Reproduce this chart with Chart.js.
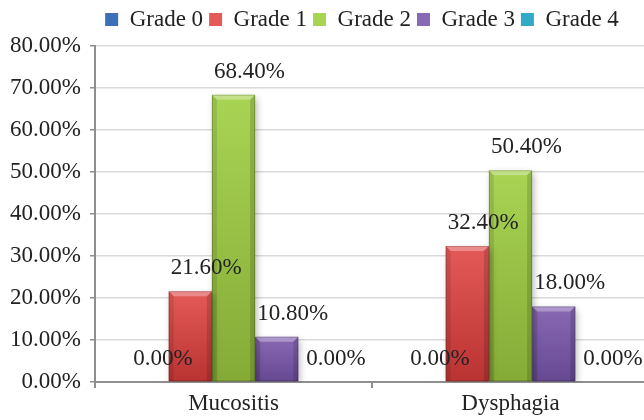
<!DOCTYPE html>
<html>
<head>
<meta charset="utf-8">
<script src="https://cdn.jsdelivr.net/npm/chart.js@4"></script>
<style>
  html, body { margin: 0; padding: 0; background: #fff; overflow: hidden; }
  #wrap { width: 649px; height: 420px; position: relative; }
</style>
</head>
<body>
<div id="wrap"><canvas id="c"></canvas></div>
<script>
// Toxicity grade distribution (%) per symptom
const categories = ['Mucositis', 'Dysphagia'];
const gradeNames = ['Grade 0', 'Grade 1', 'Grade 2', 'Grade 3', 'Grade 4'];
const grade0 = [0.00, 0.00];
const grade1 = [21.60, 32.40];
const grade2 = [68.40, 50.40];
const grade3 = [10.80, 18.00];
const grade4 = [0.00, 0.00];
const yTickValues = [0, 10, 20, 30, 40, 50, 60, 70, 80];

const FONT = '"Liberation Serif", "Times New Roman", serif';
const FONT_SIZE = 23;

// light / base / dark shades for each grade
const palette = [
  { light: '#5b8fd0', base: '#3c70b8', dark: '#2f5a96' },
  { light: '#e45a58', base: '#d84140', dark: '#b93332' },
  { light: '#a8d454', base: '#9bc444', dark: '#85ab36' },
  { light: '#8a69b4', base: '#7d5ba8', dark: '#664892' },
  { light: '#5cc3dc', base: '#33a9c8', dark: '#2689a6' }
];

function barFill(c) {
  return (ctx) => {
    if (ctx.type !== 'data') return c.base;
    const chart = ctx.chart;
    const ys = chart.scales && chart.scales.y;
    if (!ys || ys.top === undefined) return c.base;
    const yTop = ys.getPixelForValue(ctx.parsed.y);
    const yBase = ys.getPixelForValue(0);
    if (!isFinite(yTop) || yBase - yTop < 2) return c.base;
    const g = chart.ctx.createLinearGradient(0, yTop, 0, yBase);
    g.addColorStop(0, c.light);
    g.addColorStop(1, c.dark);
    return g;
  };
}

const series = [grade0, grade1, grade2, grade3, grade4];
const datasets = series.map((data, i) => ({
  label: gradeNames[i],
  data: data,
  backgroundColor: barFill(palette[i]),
  borderColor: palette[i].dark,
  borderWidth: 0,
  categoryPercentage: 0.78,
  barPercentage: 1.0
}));

// soft floor shadow beneath the bars
const barShadow = {
  id: 'barShadow',
  beforeDatasetsDraw(chart) {
    const ctx = chart.ctx;
    ctx.save();
    ctx.shadowColor = 'rgba(0,0,0,0.3)';
    ctx.shadowBlur = 7;
    ctx.shadowOffsetX = 2;
    ctx.shadowOffsetY = 3;
  },
  afterDatasetsDraw(chart) {
    chart.ctx.restore();
  }
};

// bevelled edges on each bar
const barBevel = {
  id: 'barBevel',
  afterDatasetsDraw(chart) {
    const ctx = chart.ctx;
    ctx.save();
    chart.data.datasets.forEach((ds, i) => {
      chart.getDatasetMeta(i).data.forEach((bar) => {
        const h = bar.base - bar.y;
        if (h < 3) return;
        const x0 = bar.x - bar.width / 2, x1 = bar.x + bar.width / 2;
        const y0 = bar.y, y1 = bar.base;
        const b = Math.min(5, h / 2);
        // top highlight
        ctx.fillStyle = 'rgba(255,255,255,0.30)';
        ctx.beginPath();
        ctx.moveTo(x0, y0); ctx.lineTo(x1, y0);
        ctx.lineTo(x1 - b, y0 + b); ctx.lineTo(x0 + b, y0 + b);
        ctx.closePath(); ctx.fill();
        // side shading
        ctx.fillStyle = 'rgba(0,0,0,0.10)';
        ctx.beginPath();
        ctx.moveTo(x0, y0); ctx.lineTo(x0 + b, y0 + b);
        ctx.lineTo(x0 + b, y1); ctx.lineTo(x0, y1);
        ctx.closePath(); ctx.fill();
        ctx.fillStyle = 'rgba(0,0,0,0.14)';
        ctx.beginPath();
        ctx.moveTo(x1, y0); ctx.lineTo(x1 - b, y0 + b);
        ctx.lineTo(x1 - b, y1); ctx.lineTo(x1, y1);
        ctx.closePath(); ctx.fill();
        // thin outline
        ctx.strokeStyle = 'rgba(0,0,0,0.18)';
        ctx.lineWidth = 1;
        ctx.strokeRect(x0 + 0.5, y0 + 0.5, bar.width - 1, h - 1);
      });
    });
    ctx.restore();
  }
};

// percentage labels over each bar
const valueLabels = {
  id: 'valueLabels',
  afterDatasetsDraw(chart) {
    const ctx = chart.ctx;
    ctx.save();
    ctx.font = FONT_SIZE + 'px ' + FONT;
    ctx.fillStyle = '#222';
    ctx.textAlign = 'center';
    ctx.textBaseline = 'middle';
    chart.data.datasets.forEach((ds, i) => {
      const meta = chart.getDatasetMeta(i);
      meta.data.forEach((bar, j) => {
        ctx.fillText(ds.data[j].toFixed(2) + '%', bar.x + 16, bar.y - 23);
      });
    });
    ctx.restore();
  }
};

// centre the legend row over the plot area and lift it a little
const legendShift = {
  id: 'legendShift',
  afterLayout(chart) {
    const lg = chart.legend;
    if (!lg) return;
    const dx = (chart.chartArea.left + chart.chartArea.right) / 2 - (lg.left + lg.right) / 2 - 10;
    lg.left += dx;
    lg.right += dx;
    lg.top -= 5;
    lg.bottom -= 5;
  }
};

new Chart(document.getElementById('c'), {
  type: 'bar',
  data: { labels: categories, datasets: datasets },
  plugins: [barShadow, barBevel, valueLabels, legendShift],
  options: {
    responsive: true,
    maintainAspectRatio: false,
    animation: false,
    layout: { padding: { left: 0, right: 0, top: 7, bottom: 0 } },
    plugins: {
      legend: {
        position: 'top',
        labels: {
          font: { family: FONT, size: FONT_SIZE },
          color: '#222',
          boxWidth: 13,
          boxHeight: 13,
          padding: 6
        }
      },
      tooltip: { enabled: false }
    },
    scales: {
      x: {
        grid: {
          offset: true,
          drawOnChartArea: false,
          drawTicks: true,
          tickLength: 6,
          color: '#8e8e8e',
          lineWidth: 2
        },
        border: { color: '#8e8e8e', width: 2 },
        ticks: {
          font: { family: FONT, size: FONT_SIZE },
          color: '#222',
          padding: 2
        },
        afterFit(scale) { scale.height = 38; }
      },
      y: {
        min: 0,
        max: 80,
        afterBuildTicks(scale) { scale.ticks = yTickValues.map(v => ({ value: v })); },
        grid: {
          color: '#d9d9d9',
          lineWidth: 1.5,
          tickLength: 5,
          tickColor: '#8e8e8e'
        },
        border: { color: '#8e8e8e', width: 2 },
        ticks: {
          font: { family: FONT, size: FONT_SIZE },
          color: '#222',
          padding: 9,
          callback: (v) => Number(v).toFixed(2) + '%'
        },
        afterFit(scale) { scale.width = 95; }
      }
    }
  }
});
</script>
</body>
</html>
